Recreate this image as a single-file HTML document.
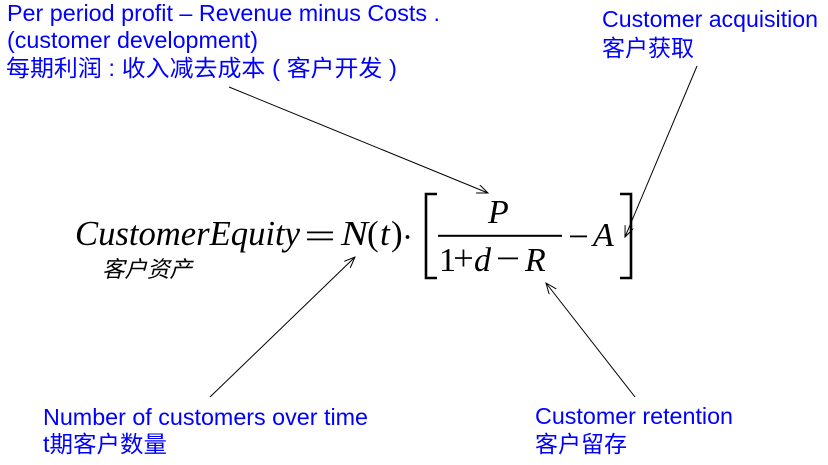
<!DOCTYPE html>
<html>
<head>
<meta charset="utf-8">
<style>
  html, body { margin:0; padding:0; background:#fff; }
  svg { display:block; }
  .lbl { font-family: "Liberation Sans", "Noto Sans CJK SC", sans-serif; font-size:23px; fill:#0000ff; }
  .cjk { font-family: "Liberation Sans", "Noto Sans CJK SC", sans-serif; font-size:23px; fill:#0000ff; }
  .mi { font-family: "Liberation Serif", serif; font-style:italic; font-size:35px; fill:#000; }
  .mn { font-family: "Liberation Serif", serif; font-size:35px; fill:#000; }
</style>
</head>
<body>
<svg width="828" height="465" viewBox="0 0 828 465" xmlns="http://www.w3.org/2000/svg">
  <defs>
    <marker id="ah" markerWidth="12" markerHeight="10" refX="11" refY="4.5" orient="auto" markerUnits="userSpaceOnUse">
      <path d="M0,0 L11,4.5 L0,9" fill="none" stroke="#000" stroke-width="1"/>
    </marker>
  </defs>

  <!-- Top-left label -->
  <text class="lbl" x="7" y="21" textLength="433" lengthAdjust="spacingAndGlyphs">Per period profit – Revenue minus Costs .</text>
  <text class="lbl" x="7" y="48" textLength="251" lengthAdjust="spacingAndGlyphs">(customer development)</text>
  <text class="cjk" x="6" y="76" textLength="391" lengthAdjust="spacingAndGlyphs">每期利润 : 收入减去成本 ( 客户开发 )</text>

  <!-- Top-right label -->
  <text class="lbl" x="602" y="27" textLength="216" lengthAdjust="spacingAndGlyphs">Customer acquisition</text>
  <text class="cjk" x="602" y="56" textLength="92" lengthAdjust="spacingAndGlyphs">客户获取</text>

  <!-- Bottom-left label -->
  <text class="lbl" x="43" y="425" textLength="325" lengthAdjust="spacingAndGlyphs">Number of customers over time</text>
  <text class="cjk" x="43" y="452" textLength="124" lengthAdjust="spacingAndGlyphs">t期客户数量</text>

  <!-- Bottom-right label -->
  <text class="lbl" x="535" y="424" textLength="198" lengthAdjust="spacingAndGlyphs">Customer retention</text>
  <text class="cjk" x="535" y="452" textLength="92" lengthAdjust="spacingAndGlyphs">客户留存</text>

  <!-- Equation -->
  <text class="mi" x="75" y="245" textLength="225" lengthAdjust="spacingAndGlyphs">CustomerEquity</text>
  <rect x="307" y="231.5" width="26" height="1.8" fill="#000"/>
  <rect x="307" y="238.5" width="26" height="1.8" fill="#000"/>
  <text class="mi" x="341" y="245" textLength="27" lengthAdjust="spacingAndGlyphs">N</text>
  <text class="mn" x="367" y="245">(</text>
  <text class="mi" x="380" y="245">t</text>
  <text class="mn" x="391" y="245">)</text>
  <circle cx="407.5" cy="237" r="1.9" fill="#000"/>

  <!-- left bracket -->
  <polyline points="437,194 426,194 426,278 437,278" fill="none" stroke="#000" stroke-width="2.6"/>
  <!-- fraction -->
  <text class="mi" x="488" y="223" style="font-size:34px">P</text>
  <rect x="438" y="234.8" width="124" height="2" fill="#000"/>
  <text class="mn" x="439" y="271" style="font-size:34px">1</text>
  <rect x="455" y="257.2" width="17" height="1.7" fill="#000"/>
  <rect x="462.6" y="249.5" width="1.7" height="17" fill="#000"/>
  <text class="mi" x="474" y="271" style="font-size:34px">d</text>
  <rect x="498" y="257.5" width="20" height="1.8" fill="#000"/>
  <text class="mi" x="525" y="271" style="font-size:34px">R</text>
  <rect x="570" y="235.5" width="17" height="1.8" fill="#000"/>
  <text class="mi" x="593" y="246" style="font-size:34px">A</text>
  <!-- right bracket -->
  <polyline points="620,194 631,194 631,278 620,278" fill="none" stroke="#000" stroke-width="2.6"/>

  <!-- 客户资产 italic -->
  <g transform="translate(102,277) skewX(-14)">
    <text x="0" y="0" style="font-family:'Liberation Sans','Noto Sans CJK SC',sans-serif;font-size:22.5px;fill:#000" textLength="90" lengthAdjust="spacingAndGlyphs">客户资产</text>
  </g>

  <!-- Arrows -->
  <line x1="229" y1="87" x2="488" y2="193" stroke="#000" stroke-width="1" marker-end="url(#ah)"/>
  <line x1="697" y1="66" x2="625" y2="237" stroke="#000" stroke-width="1" marker-end="url(#ah)"/>
  <line x1="210" y1="397" x2="355" y2="257" stroke="#000" stroke-width="1" marker-end="url(#ah)"/>
  <line x1="635" y1="397" x2="546" y2="283" stroke="#000" stroke-width="1" marker-end="url(#ah)"/>
</svg>
</body>
</html>
